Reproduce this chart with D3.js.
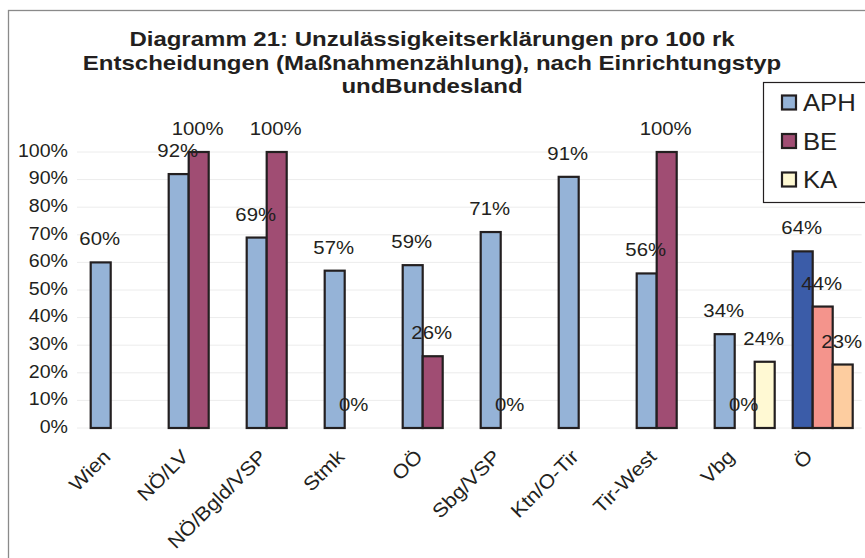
<!DOCTYPE html>
<html>
<head>
<meta charset="utf-8">
<script src="https://cdn.jsdelivr.net/npm/d3@7"></script>
<style>
  html, body { margin: 0; padding: 0; background: #ffffff; }
  svg { display: block; }
  text { font-family: "Liberation Sans", Arial, sans-serif; fill: #231f20; }
</style>
</head>
<body>
<svg id="chart" width="865" height="558"></svg>
<script>
// ---- data ----
const titleLines = [
  "Diagramm 21: Unzulässigkeitserklärungen pro 100 rk",
  "Entscheidungen (Maßnahmenzählung), nach Einrichtungstyp",
  "undBundesland"
];
const categories = ["Wien", "NÖ/LV", "NÖ/Bgld/VSP", "Stmk", "OÖ", "Sbg/VSP", "Ktn/O-Tir", "Tir-West", "Vbg", "Ö"];
const seriesNames = ["APH", "BE", "KA"];
const aphValues = [60, 92, 69, 57, 59, 71, 91, 56, 34, 64];
const beValues  = [null, 100, 100, 0, 26, 0, null, 100, 0, 44];
const kaValues  = [null, null, null, null, null, null, null, null, 24, 23];
const yTickValues = [0, 10, 20, 30, 40, 50, 60, 70, 80, 90, 100];
const totalCategory = "Ö";

// ---- style ----
const colors = { APH: "#95b3d7", BE: "#a04d73", KA: "#fff9d3" };
const totalColors = { APH: "#3b5ca8", BE: "#f4948c", KA: "#fdcda0" };
const ink = "#231f20";

const svg = d3.select("#chart");
const W = 865, H = 558;

// outer chart frame
svg.append("rect")
  .attr("x", 8.5).attr("y", 10.5)
  .attr("width", W + 20).attr("height", H + 20)
  .attr("fill", "none").attr("stroke", "#8a8a8a").attr("stroke-width", 1.3);

// scales
const plot = { left: 81.7, right: 861.7, top: 152, bottom: 428 };
const x0 = d3.scaleBand().domain(categories).range([plot.left, plot.right]).padding(0);
const groupW = x0.step() * 60 / 78;
const x1 = d3.scaleBand().domain(seriesNames)
  .range([(x0.step() - groupW) / 2, (x0.step() + groupW) / 2]).padding(0);
const y = d3.scaleLinear().domain([0, 100]).range([plot.bottom, plot.top]);

// gridlines
svg.append("g").selectAll("line").data(yTickValues).join("line")
  .attr("x1", 77).attr("x2", plot.right)
  .attr("y1", d => y(d)).attr("y2", d => y(d))
  .attr("stroke", "#ececec").attr("stroke-width", 1);

// y axis labels
const yAxis = d3.axisLeft(y).tickValues(yTickValues).tickFormat(d => d + "%").tickSize(0).tickPadding(0);
const yg = svg.append("g").attr("transform", "translate(68,0)").call(yAxis);
yg.select(".domain").remove();
yg.selectAll("text")
  .attr("font-family", "Liberation Sans, Arial, sans-serif")
  .attr("font-size", 17.5).attr("fill", ink)
  .attr("x", 0)
  .attr("dy", "0.33em");
yg.selectAll(".tick").each(function(d) {
  d3.select(this).attr("transform", `translate(0,${y(d) - 1})`);
  d3.select(this).select("text").attr("transform", "scale(1.12,1)");
});

// build records
const seriesValues = { APH: aphValues, BE: beValues, KA: kaValues };
const records = [];
categories.forEach((c, i) => {
  seriesNames.forEach(s => {
    const v = seriesValues[s][i];
    if (v !== null && v !== undefined) records.push({ cat: c, series: s, value: v });
  });
});

// bars
svg.append("g").selectAll("rect")
  .data(records.filter(d => d.value > 0)).join("rect")
  .attr("x", d => x0(d.cat) + x1(d.series))
  .attr("width", x1.bandwidth())
  .attr("y", d => y(d.value))
  .attr("height", d => y(0) - y(d.value))
  .attr("fill", d => d.cat === totalCategory ? totalColors[d.series] : colors[d.series])
  .attr("stroke", ink).attr("stroke-width", 2.2);

// data labels
svg.append("g").selectAll("text")
  .data(records).join("text")
  .attr("transform", d => `translate(${x0(d.cat) + x1(d.series) + x1.bandwidth() / 2 - 1},${y(d.value) - 17}) scale(1.1,1)`)
  .attr("text-anchor", "middle")
  .attr("font-size", 18.5)
  .text(d => d.value + "%");

// x labels
svg.append("g").selectAll("text")
  .data(categories).join("text")
  .attr("transform", d => `translate(${x0(d) + x0.bandwidth() / 2 - 9},${plot.bottom + 30}) rotate(-45) scale(1.1,1)`)
  .attr("text-anchor", "end")
  .attr("font-size", 19.5)
  .text(d => d);

// title
svg.append("g").selectAll("text")
  .data(titleLines).join("text")
  .attr("transform", (d, i) => `translate(432,${46 + i * 23.5}) scale(1.2,1)`)
  .attr("text-anchor", "middle")
  .attr("font-size", 20).attr("font-weight", "bold")
  .text(d => d);

// legend
const legend = svg.append("g");
legend.append("rect")
  .attr("x", 763.5).attr("y", 82.5).attr("width", 120).attr("height", 120)
  .attr("fill", "#ffffff").attr("stroke", ink).attr("stroke-width", 1.2);
const legY = d3.scalePoint().domain(seriesNames).range([102.5, 179.5]);
const li = legend.selectAll("g.item").data(seriesNames).join("g").attr("class", "item")
  .attr("transform", d => `translate(0,${legY(d)})`);
li.append("rect")
  .attr("x", 782).attr("y", -7).attr("width", 14).attr("height", 14)
  .attr("fill", d => colors[d]).attr("stroke", ink).attr("stroke-width", 2.2);
li.append("text")
  .attr("transform", "translate(803,0) scale(1.07,1)")
  .attr("dy", "0.355em")
  .attr("font-size", 24)
  .text(d => d);
</script>
</body>
</html>
